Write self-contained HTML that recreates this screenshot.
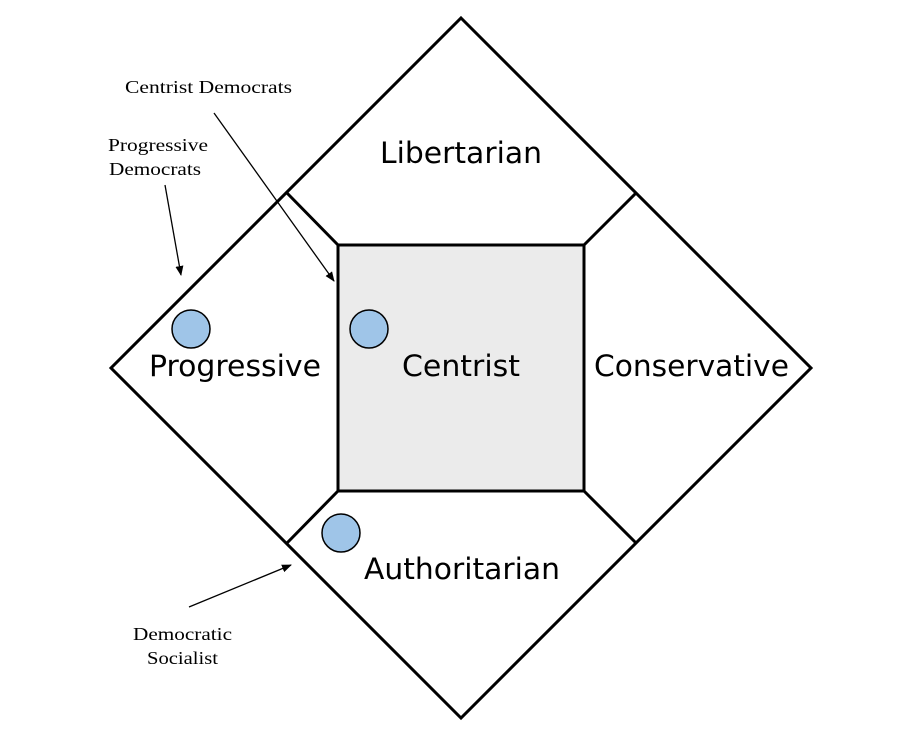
<!DOCTYPE html>
<html><head><style>body{margin:0;background:#fff}svg{display:block}</style></head><body>
<svg width="912" height="730" viewBox="0 0 912 730" xmlns="http://www.w3.org/2000/svg">
<defs><marker id="a" markerWidth="10" markerHeight="8" refX="9" refY="4" orient="auto" markerUnits="userSpaceOnUse"><path d="M0,0 L10,4 L0,8 z" fill="#000"/></marker></defs>
<polygon points="461,18 811,368 461,718 111,368" fill="#fff" stroke="#000" stroke-width="3"/>
<rect x="338" y="245" width="246" height="246" fill="#ebebeb" stroke="#000" stroke-width="3"/>
<g stroke="#000" stroke-width="3">
<line x1="338" y1="245" x2="287" y2="193"/>
<line x1="584" y1="245" x2="636" y2="193"/>
<line x1="338" y1="491" x2="287" y2="543"/>
<line x1="584" y1="491" x2="636" y2="543"/>
</g>
<g fill="#9fc5e8" stroke="#000" stroke-width="1.5">
<circle cx="191" cy="329" r="19"/>
<circle cx="369" cy="329" r="19"/>
<circle cx="341" cy="533" r="19"/>
</g>
<g font-family="DejaVu Sans, sans-serif" font-size="29" fill="#000" lengthAdjust="spacingAndGlyphs">
<text x="380" y="163" textLength="162" lengthAdjust="spacingAndGlyphs">Libertarian</text>
<text x="149" y="376" textLength="172" lengthAdjust="spacingAndGlyphs">Progressive</text>
<text x="402" y="376" textLength="118" lengthAdjust="spacingAndGlyphs">Centrist</text>
<text x="594" y="376" textLength="195" lengthAdjust="spacingAndGlyphs">Conservative</text>
<text x="364" y="579" textLength="196" lengthAdjust="spacingAndGlyphs">Authoritarian</text>
</g>
<g font-family="Liberation Serif, serif" font-size="18" fill="#000">
<text x="125" y="93" textLength="167" lengthAdjust="spacingAndGlyphs">Centrist Democrats</text>
<text x="108" y="151" textLength="100" lengthAdjust="spacingAndGlyphs">Progressive</text>
<text x="109" y="175" textLength="92" lengthAdjust="spacingAndGlyphs">Democrats</text>
<text x="133" y="640" textLength="99" lengthAdjust="spacingAndGlyphs">Democratic</text>
<text x="147" y="664" textLength="71" lengthAdjust="spacingAndGlyphs">Socialist</text>
</g>
<g stroke="#000" stroke-width="1.3" marker-end="url(#a)">
<line x1="214" y1="113" x2="334" y2="281"/>
<line x1="165" y1="185" x2="181" y2="275"/>
<line x1="189" y1="607" x2="291" y2="565"/>
</g>
</svg>
</body></html>
